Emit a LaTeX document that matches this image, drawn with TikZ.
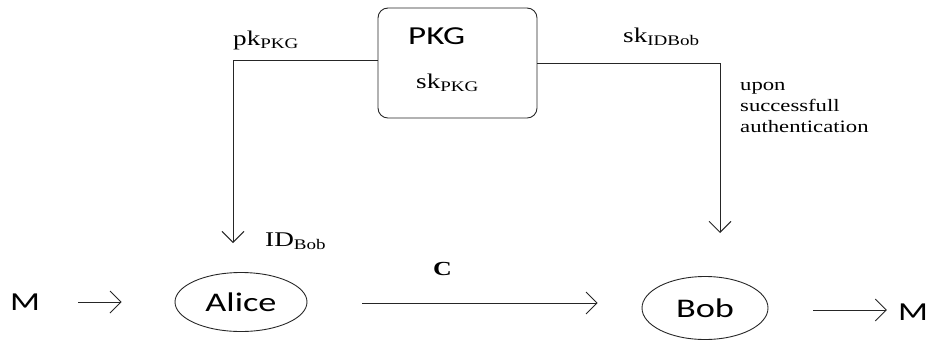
\documentclass[tikz,border=0pt]{standalone}
\usepackage{fontspec}
\setmainfont[FakeStretch=1.3]{Liberation Serif}
\newfontfamily\sansfam[FakeStretch=1.35]{Carlito}
\usetikzlibrary{arrows.meta,shapes.geometric}

\begin{document}
\begin{tikzpicture}[x=1bp,y=-1bp,
		line/.style={line width=0.9pt,draw=black!85},
		arr/.style={line,-{Straight Barb[length=11pt,width=22pt]}},
		party/.style={ellipse,draw=black!85,line width=0.9pt,inner sep=0pt,font=\sansfam\fontsize{27}{30}\selectfont},
		lbl/.style={inner sep=0pt,font=\fontsize{21}{23}\selectfont},
		big/.style={inner sep=0pt,font=\sansfam\fontsize{26}{30}\selectfont}]
			
			\useasboundingbox (0,0) rectangle (934,343);
			
			% key generator
			\node[draw=black!85,line width=0.9pt,rounded corners=10pt,minimum width=159bp,minimum height=110bp] (pkg) at (457.5,63) {};
			\node[big,anchor=base west] (pkgname) at (408,44) {PKG};
			\node[lbl,anchor=base west] (skpkg) at (416,88) {sk\textsubscript{PKG}};
			
			% the two parties
			\node[party,minimum width=132bp,minimum height=59bp] (alice) at (241,302) {Alice};
			\node[party,minimum width=126bp,minimum height=63bp] (bob) at (705,308) {Bob};
			\node[big] (min) at (25,302) {M};
			\node[big] (mout) at (913,312) {M};
			
			\coordinate (idin) at (233,243);
			\coordinate (skin) at (720,233);
			
			\draw[arr] ([yshift=3pt]pkg.west) -| (idin);
			\draw[arr] (pkg.east) -| (skin);
			\draw[arr,shorten <=38bp,shorten >=53bp] (min) -- (alice);
			\draw[arr,shorten <=55bp,shorten >=44bp] ([yshift=-1pt]alice.east) -- ([yshift=-1pt]alice.east -| bob.west);
			\draw[arr,shorten <=45bp,shorten >=11bp] ([yshift=-2pt]bob.east) -- ([yshift=-2pt]bob.east -| mout.west);
			
			% labels
			\node[lbl,anchor=base west] (pkl) at (233,45) {pk\textsubscript{PKG}};
			\node[lbl,anchor=base west] (skl) at (623,42) {sk\textsubscript{IDBob}};
			\node[lbl,anchor=base west] (idl) at (265,246) {ID\textsubscript{Bob}};
			\node[lbl,anchor=base west,font=\bfseries\fontsize{20}{22}\selectfont] (cl) at (433,275) {C};
			\node[inner sep=0pt,anchor=north west,align=left,font=\fontsize{17.5}{21}\selectfont] (auth) at (740,82) {upon\\successfull\\authentication};
			
		\end{tikzpicture}
\end{document}
